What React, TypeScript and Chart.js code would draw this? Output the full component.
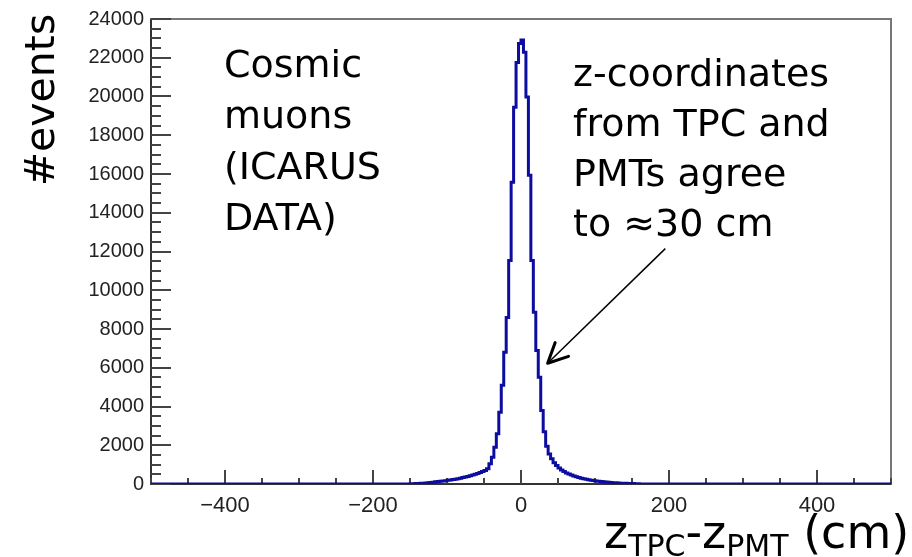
import React, { useEffect, useRef } from "react";
import { Chart, registerables } from "chart.js";

Chart.register(...registerables);

// ---- histogram definition ----
const histLow = -500;
const histHigh = 500;
const binWidth = 10 / 3; // cm
const firstBinIndex = -45; // index (relative to 0 cm) of the first listed bin

// counts per bin, starting at bin index firstBinIndex
const counts = [
  10, 15, 20, 25, 35, 45, 55, 65, 80, 95,
  110, 125, 140, 155, 170, 190, 210, 230, 250, 275,
  300, 330, 360, 390, 425, 460, 500, 540, 590, 640,
  700, 790, 1040, 1380, 1900, 2590, 3700, 5100, 6800, 8600,
  11530, 15570, 19440, 21760, 22740,
  22920, 22290, 19970, 15940, 11530, 8860, 6890, 5510, 3790, 2700,
  1950, 1550, 1300, 1100, 950, 820, 720, 640, 570, 510,
  460, 410, 370, 330, 300, 270, 240, 215, 195, 175,
  155, 140, 125, 110, 100, 90, 80, 70, 60, 50,
  45, 40, 35, 30, 25, 20, 15, 10,
];

const xTickValues = [-400, -200, 0, 200, 400];
const yTickValues = [0, 2000, 4000, 6000, 8000, 10000, 12000, 14000, 16000, 18000, 20000, 22000, 24000];
const yMax = 24000;
const xMinorStep = 50;
const yMinorStep = 500;

const leftNote = ["Cosmic", "muons", "(ICARUS", "DATA)"];
const rightNote = ["z-coordinates", "from TPC and", "PMTs agree", "to \u224830 cm"];
const yTitle = "#events";
const xTitleParts = [
  { t: "z", sub: false },
  { t: "TPC", sub: true },
  { t: "-", sub: false },
  { t: "z", sub: false },
  { t: "PMT", sub: true },
  { t: " (cm)", sub: false },
];
// arrow in data coordinates: from (x, y) to (x, y)
const arrowFrom = { x: 195, y: 12150 };
const arrowTo = { x: 36, y: 6230 };

const NOTE_FONT = '38px "DejaVu Sans"';

function buildPoints() {
  const pts: { x: number; y: number }[] = [{ x: histLow, y: 0 }];
  counts.forEach((c, i) => {
    pts.push({ x: (firstBinIndex + i) * binWidth, y: c });
  });
  pts.push({ x: (firstBinIndex + counts.length) * binWidth, y: 0 });
  pts.push({ x: histHigh, y: 0 });
  return pts;
}

const decor = {
  id: "decor",
  beforeDatasetsDraw(chart: any) {
    const { ctx, chartArea: a, scales } = chart;
    const x = scales.x;
    const y = scales.y;
    ctx.save();
    // frame
    ctx.strokeStyle = "#777";
    ctx.lineWidth = 2;
    ctx.strokeRect(a.left, a.top, a.right - a.left, a.bottom - a.top);
    // axes
    ctx.strokeStyle = "#333";
    ctx.lineWidth = 2;
    ctx.beginPath();
    ctx.moveTo(a.left, a.top);
    ctx.lineTo(a.left, a.bottom);
    ctx.lineTo(a.right, a.bottom);
    ctx.stroke();
    // y ticks
    ctx.strokeStyle = "#444";
    ctx.lineWidth = 2;
    ctx.beginPath();
    for (let v = 0; v <= yMax; v += yMinorStep) {
      const py = Math.round(y.getPixelForValue(v));
      const len = v % 2000 === 0 ? 20 : 10;
      ctx.moveTo(a.left, py);
      ctx.lineTo(a.left + len, py);
    }
    // x ticks
    for (let v = histLow; v <= histHigh; v += xMinorStep) {
      const px = Math.round(x.getPixelForValue(v));
      const len = v % 200 === 0 ? 14 : 6;
      ctx.moveTo(px, a.bottom);
      ctx.lineTo(px, a.bottom - len);
    }
    ctx.stroke();
    ctx.restore();
  },
  afterDraw(chart: any) {
    const { ctx, scales } = chart;
    const x = scales.x;
    const y = scales.y;
    ctx.save();
    ctx.fillStyle = "#000";
    ctx.font = NOTE_FONT;
    ctx.textAlign = "left";
    ctx.textBaseline = "alphabetic";
    leftNote.forEach((s, i) => ctx.fillText(s, 224, 77 + i * 51));
    rightNote.forEach((s, i) => ctx.fillText(s, 573, 86 + i * 50));

    // y title
    ctx.save();
    ctx.translate(54, 100);
    ctx.rotate(-Math.PI / 2);
    ctx.font = '41px "DejaVu Sans"';
    ctx.textAlign = "center";
    ctx.fillText(yTitle, 0, 0);
    ctx.restore();

    // x title
    let cx = 604;
    xTitleParts.forEach((p) => {
      ctx.font = p.sub ? '30px "DejaVu Sans"' : '46px "DejaVu Sans"';
      ctx.fillText(p.t, cx, p.sub ? 556 : 548);
      cx += ctx.measureText(p.t).width;
    });

    // arrow
    const x0 = x.getPixelForValue(arrowFrom.x);
    const y0 = y.getPixelForValue(arrowFrom.y);
    const x1 = x.getPixelForValue(arrowTo.x);
    const y1 = y.getPixelForValue(arrowTo.y);
    ctx.strokeStyle = "#000";
    ctx.lineWidth = 1.5;
    ctx.beginPath();
    ctx.moveTo(x0, y0);
    ctx.lineTo(x1, y1);
    ctx.stroke();
    const ang = Math.atan2(y0 - y1, x0 - x1);
    const L = 22;
    const spread = 0.45;
    ctx.lineWidth = 3;
    ctx.lineCap = "round";
    ctx.lineJoin = "round";
    ctx.beginPath();
    ctx.moveTo(x1 + L * Math.cos(ang + spread), y1 + L * Math.sin(ang + spread));
    ctx.lineTo(x1, y1);
    ctx.lineTo(x1 + L * Math.cos(ang - spread), y1 + L * Math.sin(ang - spread));
    ctx.stroke();
    ctx.restore();
  },
};

export default function App() {
  const ref = useRef<HTMLCanvasElement | null>(null);
  useEffect(() => {
    if (!ref.current) return;
    const chart = new Chart(ref.current, {
      type: "line",
      data: {
        datasets: [
          {
            data: buildPoints(),
            borderColor: "#0c0ca0",
            borderWidth: 3,
            pointRadius: 0,
            fill: false,
            stepped: "before",
            borderJoinStyle: "miter",
          } as any,
        ],
      },
      options: {
        animation: false,
        responsive: false,
        devicePixelRatio: 1,
        parsing: false,
        layout: { padding: { left: 0, right: 21, top: 18, bottom: 0 } },
        plugins: { legend: { display: false }, tooltip: { enabled: false } },
        scales: {
          x: {
            type: "linear",
            min: histLow,
            max: histHigh,
            grid: { display: false, drawTicks: false, tickLength: 0 },
            border: { display: false },
            afterFit: (s: any) => {
              s.height = 73;
            },
            afterBuildTicks: (s: any) => {
              s.ticks = xTickValues.map((v) => ({ value: v }));
            },
            ticks: {
              padding: 9,
              maxRotation: 0,
              color: "#222",
              font: { family: '"Liberation Sans", Arial, sans-serif', size: 22 },
              callback: (v: any) => String(v).replace("-", "\u2212"),
            },
          },
          y: {
            type: "linear",
            min: 0,
            max: yMax,
            grid: { display: false, drawTicks: false, tickLength: 0 },
            border: { display: false },
            afterFit: (s: any) => {
              s.width = 151;
            },
            afterBuildTicks: (s: any) => {
              s.ticks = yTickValues.map((v) => ({ value: v }));
            },
            ticks: {
              padding: 7,
              color: "#222",
              font: { family: '"Liberation Sans", Arial, sans-serif', size: 20 },
              callback: (v: any) => String(v),
            },
          },
        },
      },
      plugins: [decor],
    });
    return () => chart.destroy();
  }, []);
  return (
    <div style={{ position: "fixed", left: 0, top: 0, width: 912, height: 557, background: "#fff" }}>
      <canvas ref={ref} width={912} height={557} style={{ display: "block", width: 912, height: 557 }} />
    </div>
  );
}
